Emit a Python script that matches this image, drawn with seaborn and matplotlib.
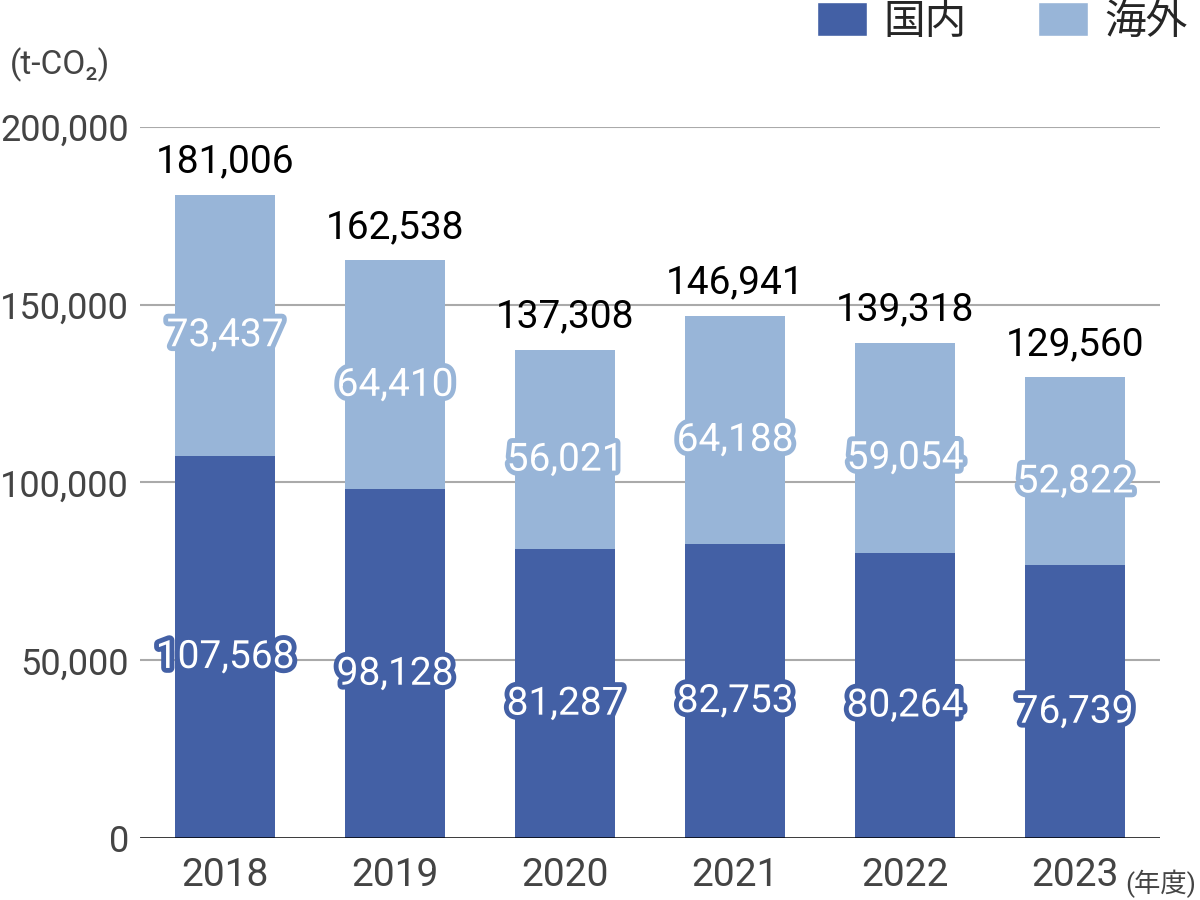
import matplotlib
matplotlib.use("Agg")
import matplotlib.pyplot as plt
import matplotlib.patheffects as pe
from matplotlib.patches import Patch
import seaborn as sns
import pandas as pd
import numpy as np

years = ["2018", "2019", "2020", "2021", "2022", "2023"]
domestic = [107568, 98128, 81287, 82753, 80264, 76739]
overseas = [73437, 64410, 56021, 64188, 59054, 52822]
totals = [181006, 162538, 137308, 146941, 139318, 129560]
yticks = [0, 50000, 100000, 150000, 200000]

c_dom = "#4360A5"
c_ovs = "#98B5D8"

sns.set_theme(style="white")
plt.rcParams["font.family"] = ["Roboto", "Noto Sans CJK JP", "DejaVu Sans"]

df = pd.DataFrame({"year": years, "domestic": domestic, "overseas": overseas,
                   "total": [d + o for d, o in zip(domestic, overseas)]})

fig = plt.figure(figsize=(12, 9), dpi=100)
ax = fig.add_axes([0.1167, 0.0689, 0.85, 0.79])

sns.barplot(data=df, x="year", y="total", color=c_ovs, width=0.59, ax=ax,
            saturation=1, linewidth=0, zorder=3)
sns.barplot(data=df, x="year", y="domestic", color=c_dom, width=0.59, ax=ax,
            saturation=1, linewidth=0, zorder=3)

ax.set_xlim(-0.5, 5.5)
ax.set_ylim(0, 200000)
ax.set_yticks(yticks)
ax.set_yticklabels([f"{v:,}" for v in yticks])
for v in yticks[1:]:
    ax.axhline(v, color="#AAAAAA", lw=1.5, zorder=1)
ax.axhline(0, color="black", lw=1.8, zorder=4)
for s in ax.spines.values():
    s.set_visible(False)
ax.set_xlabel("")
ax.set_ylabel("")
ax.tick_params(axis="y", labelsize=26, colors="#444444", length=0, pad=8)
ax.tick_params(axis="x", labelsize=28, colors="#444444", length=0, pad=14)

for i in range(len(years)):
    d = domestic[i]
    o = overseas[i]
    ax.text(i, d / 2 - 3000, f"{d:,}", ha="center", va="center", fontsize=28,
            color="white", zorder=5,
            path_effects=[pe.Stroke(linewidth=7, foreground=c_dom), pe.Normal()])
    ax.text(i, d + o / 2 - 3000, f"{o:,}", ha="center", va="center", fontsize=28,
            color="white", zorder=5,
            path_effects=[pe.Stroke(linewidth=7, foreground=c_ovs), pe.Normal()])
    ax.text(i, totals[i] + 4000, f"{totals[i]:,}", ha="center", va="bottom",
            fontsize=28, color="black", zorder=5, clip_on=False)

fig.text(0.008, 0.928, "(t-CO₂)", fontsize=24, color="#444444", ha="left",
         va="center")
fig.text(0.938, 0.018, "(年度)", fontsize=19, color="#444444", ha="left",
         va="center")

handles = [Patch(facecolor=c_dom, label="国内"), Patch(facecolor=c_ovs, label="海外")]
leg = fig.legend(handles=handles, loc="upper right", bbox_to_anchor=(1.021, 1.04),
                 ncol=2, frameon=False, handlelength=1.2,
                 handleheight=0.87, columnspacing=1.7, handletextpad=0.4,
                 prop={"family": ["Noto Sans CJK JP", "DejaVu Sans"], "size": 30})

fig.savefig("out.png", dpi=100)
